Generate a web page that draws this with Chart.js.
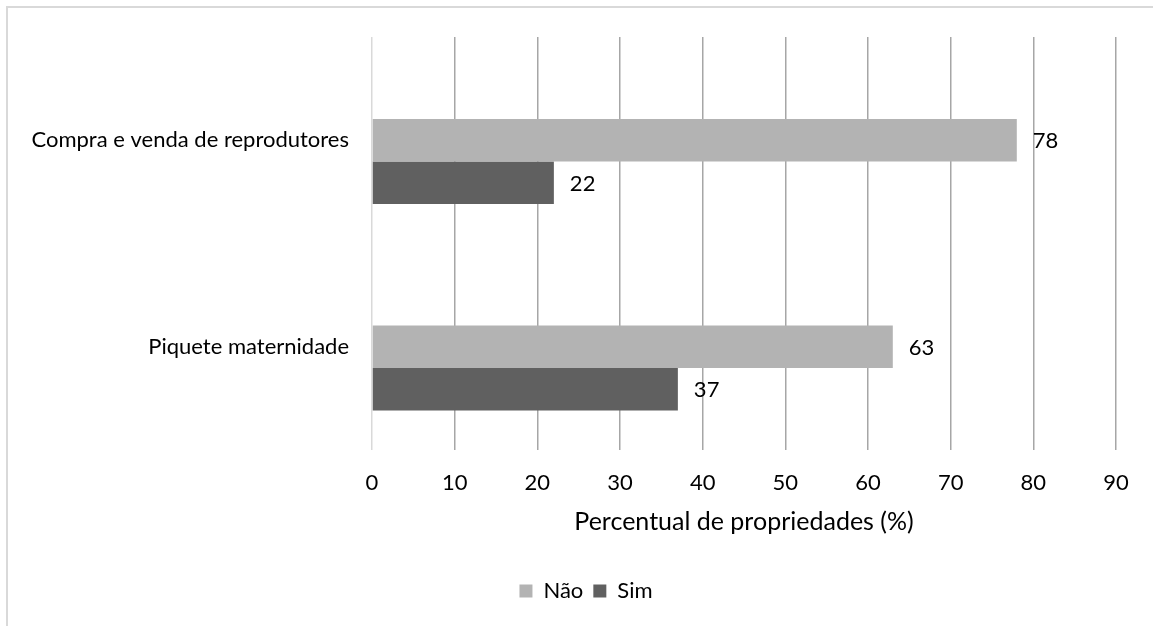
<!DOCTYPE html>
<html lang="pt">
<head>
<meta charset="utf-8">
<title>Percentual de propriedades</title>
<script src="https://cdn.jsdelivr.net/npm/chart.js@4.4.1/dist/chart.umd.min.js"></script>
<style>
  html, body { margin: 0; padding: 0; background: #ffffff; }
  #wrap { position: relative; width: 1153px; height: 626px; overflow: hidden; }
  #frame {
    position: absolute; left: 6px; top: 6px; width: 1200px; height: 700px;
    border-left: 2px solid #d9d9d9; border-top: 2px solid #d9d9d9;
    box-sizing: border-box; pointer-events: none;
  }
  canvas { position: absolute; left: 0; top: 0; }
</style>
</head>
<body>
<div id="wrap">
  <canvas id="chart" width="1153" height="626"></canvas>
  <div id="frame"></div>
</div>
<script>
// Categories and series values
const categories = ['Compra e venda de reprodutores', 'Piquete maternidade'];
const seriesNames = ['Não', 'Sim'];
const naoValues = [78, 63];
const simValues = [22, 37];
const emptyValues = [null, null];
const xMin = 0;
const xMax = 90;
const xStep = 10;

const FONT = 'Lato, Carlito, Calibri, "DejaVu Sans", sans-serif';
const TEXT = '#000000';
const LABEL_SIZE = 22;
const LEGEND_SHIFT = 28;

// Value labels printed just past the end of each bar
const valueLabels = {
  id: 'valueLabels',
  afterDatasetsDraw(chart) {
    const ctx = chart.ctx;
    ctx.save();
    ctx.font = LABEL_SIZE + 'px ' + FONT;
    ctx.fillStyle = TEXT;
    ctx.textAlign = 'left';
    ctx.textBaseline = 'middle';
    chart.data.datasets.forEach((ds, di) => {
      if (!ds.label) return;
      const meta = chart.getDatasetMeta(di);
      meta.data.forEach((bar, i) => {
        const v = ds.data[i];
        if (v === null || v === undefined) return;
        ctx.fillText(String(v), bar.x + 16, bar.y + 1);
      });
    });
    ctx.restore();
  }
};

// Centre the legend under the whole frame rather than the padded layout box
const legendOffset = {
  id: 'legendOffset',
  afterLayout(chart) {
    const lg = chart.legend;
    if (!lg) return;
    lg.left += LEGEND_SHIFT;
    lg.right += LEGEND_SHIFT;
  }
};

new Chart(document.getElementById('chart'), {
  type: 'bar',
  data: {
    labels: categories,
    datasets: [
      // empty leading series: keeps the bar pair in the lower part of each band
      { label: '', data: emptyValues, backgroundColor: 'rgba(0,0,0,0)' },
      { label: seriesNames[0], data: naoValues, backgroundColor: '#b3b3b3' },
      { label: seriesNames[1], data: simValues, backgroundColor: '#606060' }
    ]
  },
  options: {
    indexAxis: 'y',
    responsive: false,
    animation: false,
    devicePixelRatio: 1,
    layout: { padding: { left: 0, right: 37, top: 37, bottom: 14 } },
    datasets: {
      bar: { categoryPercentage: 0.617, barPercentage: 1.0, borderWidth: 0 }
    },
    scales: {
      x: {
        type: 'linear',
        position: 'bottom',
        min: xMin,
        max: xMax,
        ticks: {
          stepSize: xStep,
          padding: 20,
          color: TEXT,
          font: { family: FONT, size: LABEL_SIZE }
        },
        grid: {
          drawTicks: false,
          lineWidth: 1.5,
          color: (c) => (c.index === 0 ? '#d9d9d9' : '#a6a6a6')
        },
        border: { display: false },
        title: {
          display: true,
          text: 'Percentual de propriedades (%)',
          color: TEXT,
          font: { family: FONT, size: 25 },
          padding: { top: 0, bottom: 33 }
        },
        afterFit(scale) { scale.height = 120; }
      },
      y: {
        ticks: {
          padding: 23,
          color: TEXT,
          font: { family: FONT, size: LABEL_SIZE }
        },
        grid: { display: false, drawTicks: false },
        border: { display: false },
        afterFit(scale) { scale.width = 372; }
      }
    },
    plugins: {
      legend: {
        position: 'bottom',
        labels: {
          boxWidth: 13,
          boxHeight: 13,
          padding: 10,
          color: TEXT,
          font: { family: FONT, size: LABEL_SIZE },
          filter: (item) => item.text !== ''
        }
      },
      tooltip: { enabled: false },
      title: { display: false }
    }
  },
  plugins: [valueLabels, legendOffset]
});
</script>
</body>
</html>
